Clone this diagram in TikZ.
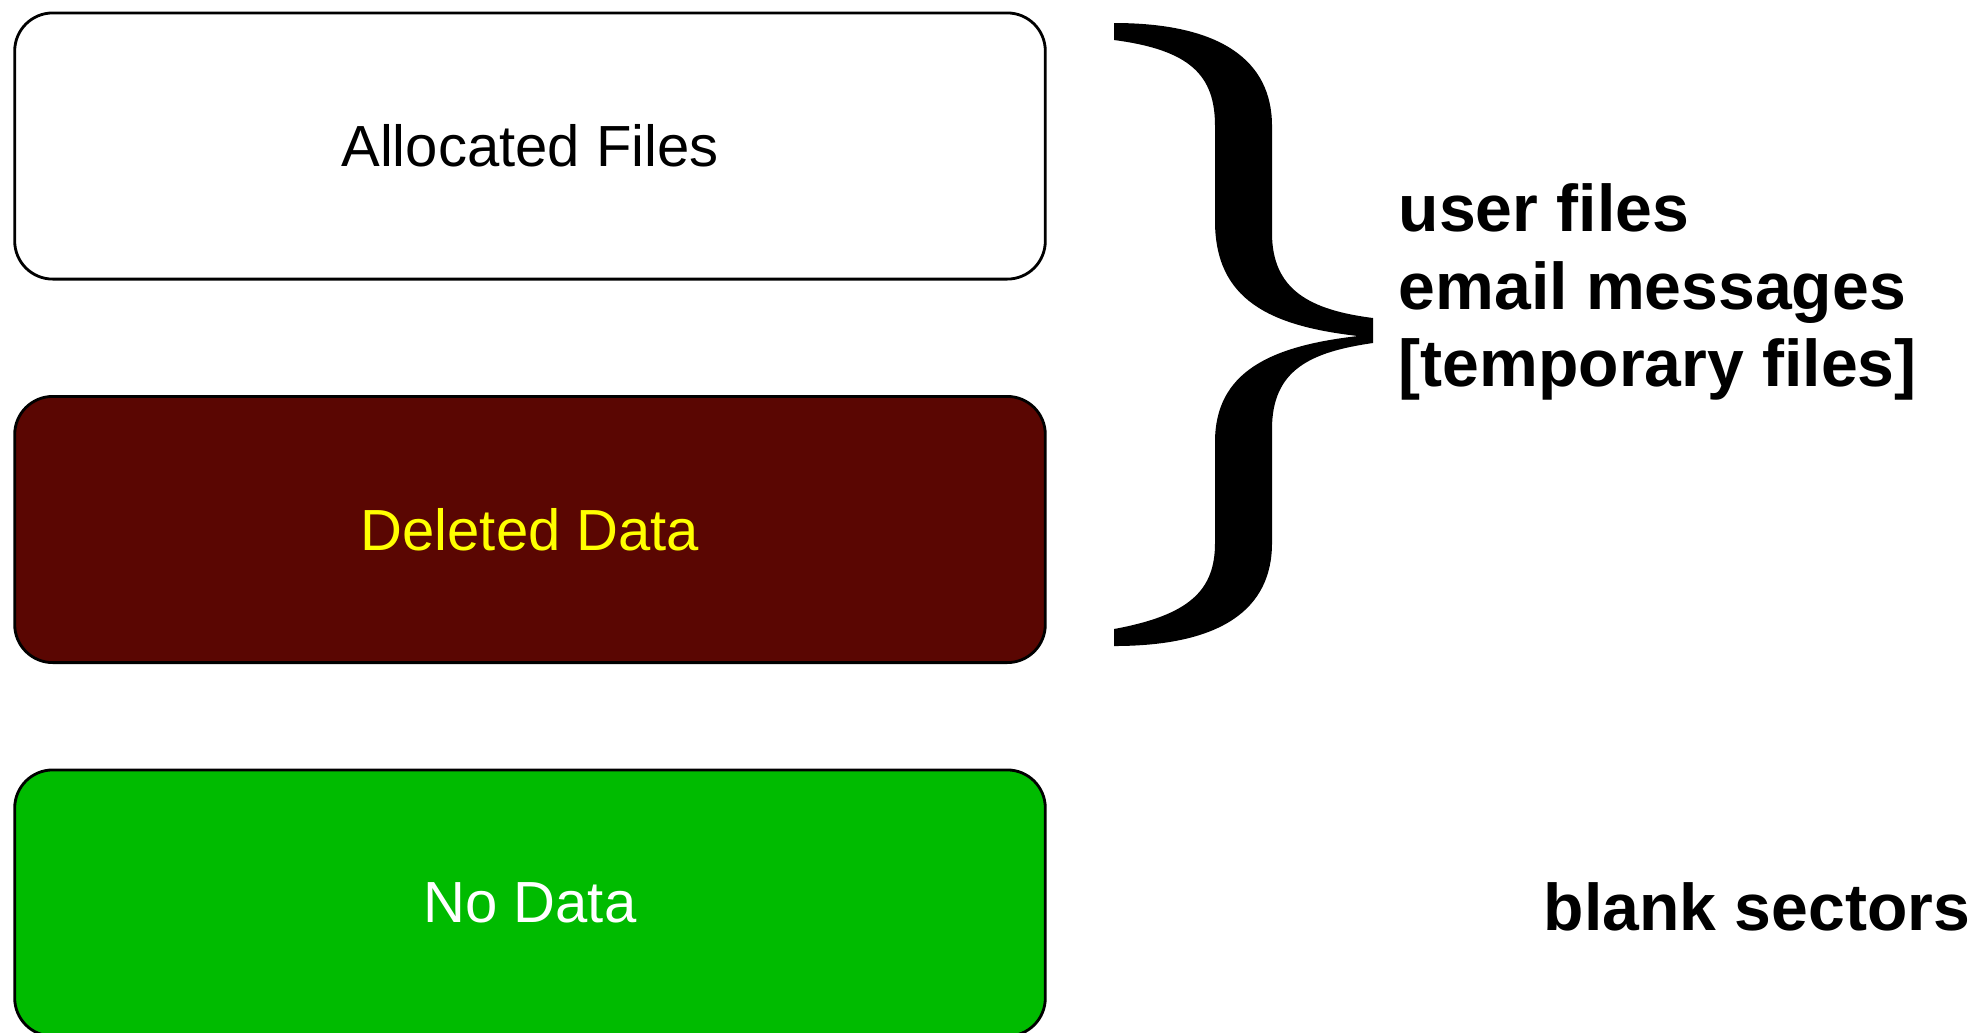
\documentclass[tikz,border=0pt]{standalone}
\usepackage{fontspec}
\setmainfont{Liberation Sans}
\usepackage{xcolor}
\usetikzlibrary{positioning,calc}

\definecolor{deletedred}{RGB}{90,6,2}
\definecolor{nodatagreen}{RGB}{0,187,0}
\definecolor{labelyellow}{RGB}{255,255,0}

\tikzset{
    diskbox/.style={draw=black, line width=0.8pt, rounded corners=0.38cm,
        minimum width=10.3cm, minimum height=2.66cm,
        font=\fontsize{16.5}{19}\selectfont},
    sidelabel/.style={anchor=base west, inner sep=0pt,
        font=\bfseries\fontsize{18.8}{22}\selectfont}
}

\begin{document}
\begin{tikzpicture}[x=0.01cm, y=-0.01cm]
    \clip (0,0) rectangle (1979,1032);

    % Disk areas
    \node[diskbox, fill=white] (alloc) at (530,146) {Allocated Files};
    \node[diskbox, fill=deletedred, text=labelyellow] (deleted) at (530,529.5) {Deleted Data};
    \node[diskbox, fill=nodatagreen, text=white] (nodata) at (530,903) {No Data};

    % Brace
    \fill[black] (1114,23) .. controls (1220,23) and (1272,60) .. (1272,126)
        -- (1272,233) .. controls (1272,290) and (1310,310) .. (1373,318)
        -- (1373,343) .. controls (1310,352) and (1272,370) .. (1272,429)
        -- (1272,543) .. controls (1272,610) and (1220,646) .. (1114,646)
        -- (1114,629) .. controls (1190,615) and (1215,590) .. (1215,543)
        -- (1215,442) .. controls (1215,372) and (1270,346) .. (1358,336)
        .. controls (1270,326) and (1215,300) .. (1215,221)
        -- (1215,126) .. controls (1215,75) and (1190,50) .. (1114,40)
        -- cycle;

    % Labels
    \node[sidelabel] (user) at (1398,231) {user files};
    \node[sidelabel] (email) at (1398,309) {email messages};
    \node[sidelabel] (temp) at (1398,386) {[temporary files]};
    \node[sidelabel] (blank) at (1543,930) {blank sectors};
\end{tikzpicture}
\end{document}
